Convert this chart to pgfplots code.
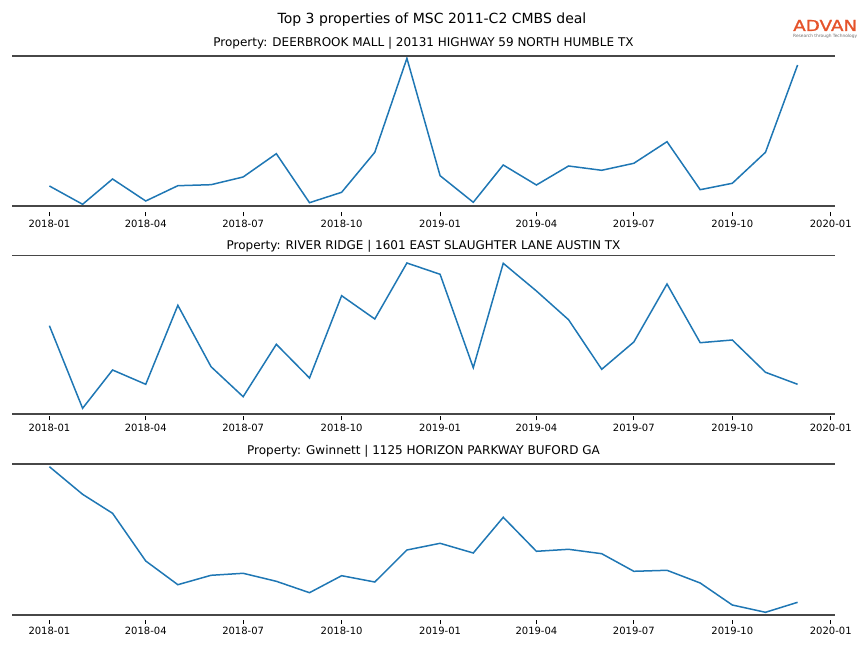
\documentclass[border=0pt]{standalone}
\usepackage{fontspec}
\setmainfont{DejaVu Sans}
\newfontfamily\logofont[FakeBold=1.2]{DejaVu Sans}
\usepackage{pgfplots}
\usepackage{graphicx}
\pgfplotsset{compat=1.18}
\definecolor{mplblue}{HTML}{1F77B4}
\definecolor{spine}{HTML}{474747}
\definecolor{advan}{HTML}{E5532B}
\definecolor{tagline}{HTML}{6E6E6E}
\pgfplotsset{
  prop/.style={
    scale only axis, width=823bp,
    anchor=south west,
    xmin=-34.95, xmax=733.95,
    axis line style={draw=none},
    xtick={0,90,181,273,365,455,546,638,730},
    xticklabels={2018-01,2018-04,2018-07,2018-10,2019-01,2019-04,2019-07,2019-10,2020-01},
    ytick=\empty,
    xtick pos=bottom,
    tick align=outside,
    major tick length=4.5bp,
    tick style={black, line width=0.7bp},
    xticklabel style={font=\fontsize{10bp}{12bp}\selectfont, inner sep=0pt, yshift=-3bp},
    /pgf/number format/assume math mode=true,
    clip=false,
  },
  pline/.style={mplblue, line width=1.5bp},
}
% x = days since 2018-01-01 (first day of each month, 2018-01 ... 2019-12)
\begin{document}
\begin{tikzpicture}
\path[use as bounding box] (0bp,0bp) rectangle (864bp,648bp);
% titles
\node[anchor=base, inner sep=0pt, font=\fontsize{14bp}{16bp}\selectfont] at (432bp,624bp) {Top 3 properties of MSC 2011-C2 CMBS deal};
\node[anchor=base west, inner sep=0pt, text=advan] at (793bp,617bp) {\resizebox{64bp}{11bp}{\logofont ADVAN}};
\node[anchor=north west, inner sep=0pt, text=tagline] at (793bp,613.7bp) {\resizebox{64bp}{!}{Research through Technology}};
\node[anchor=base, inner sep=0pt, font=\fontsize{12bp}{14bp}\selectfont] at (423.5bp,601bp) {Property: DEERBROOK MALL | 20131 HIGHWAY 59 NORTH HUMBLE TX};
\node[anchor=base, inner sep=0pt, font=\fontsize{12bp}{14bp}\selectfont] at (423.5bp,398bp) {Property: RIVER RIDGE | 1601 EAST SLAUGHTER LANE AUSTIN TX};
\node[anchor=base, inner sep=0pt, font=\fontsize{12bp}{14bp}\selectfont] at (423.5bp,193bp) {Property: Gwinnett | 1125 HORIZON PARKWAY BUFORD GA};

% subplot 1
\begin{axis}[prop, at={(12bp,436bp)}, height=156.3bp, ymin=-6.3, ymax=150]
\addplot[pline] coordinates {
(0,19.7) (31,1.4) (59,26.7) (90,4.7) (120,20) (151,21) (181,28.7) (212,52)
(243,3) (273,13.4) (304,53.4) (334,147.4) (365,30) (396,3.4) (424,40.7) (455,20.7)
(485,39.7) (516,35.4) (546,42.4) (577,64) (608,16) (638,22.4) (669,53.4) (699,140.7)};
\draw[spine, line width=2bp] (axis cs:-34.95,0) -- (axis cs:733.95,0);
\draw[spine, line width=2bp] (axis cs:-34.95,150) -- (axis cs:733.95,150);
\end{axis}

% subplot 2
\begin{axis}[prop, at={(12bp,232bp)}, height=160bp, ymin=-2, ymax=158]
\addplot[pline] coordinates {
(0,88.3) (31,5.7) (59,44) (90,29.7) (120,108.7) (151,47.3) (181,17.3) (212,69.7)
(243,36) (273,118.3) (304,95) (334,151) (365,139.7) (396,46.3) (424,150.7) (455,123)
(485,94.3) (516,44.7) (546,72) (577,130) (608,71.3) (638,74) (669,41.7) (699,29.7)};
\draw[spine, line width=2bp] (axis cs:-34.95,0) -- (axis cs:733.95,0);
\draw[spine, line width=1bp] (axis cs:-34.95,158) -- (axis cs:733.95,158);
\end{axis}

% subplot 3
\begin{axis}[prop, at={(12bp,28.5bp)}, height=155.5bp, ymin=-4.5, ymax=151]
\addplot[pline] coordinates {
(0,148.3) (31,120.7) (59,101.7) (90,54) (120,30.3) (151,39.7) (181,41.7) (212,33.7)
(243,22.3) (273,39.3) (304,33) (334,65) (365,71.7) (396,62) (424,97.7) (455,63.7)
(485,65.7) (516,61.3) (546,43.7) (577,44.7) (608,32) (638,10) (669,2.7) (699,12.7)};
\draw[spine, line width=2bp] (axis cs:-34.95,0) -- (axis cs:733.95,0);
\draw[spine, line width=2bp] (axis cs:-34.95,151) -- (axis cs:733.95,151);
\end{axis}
\end{tikzpicture}
\end{document}
